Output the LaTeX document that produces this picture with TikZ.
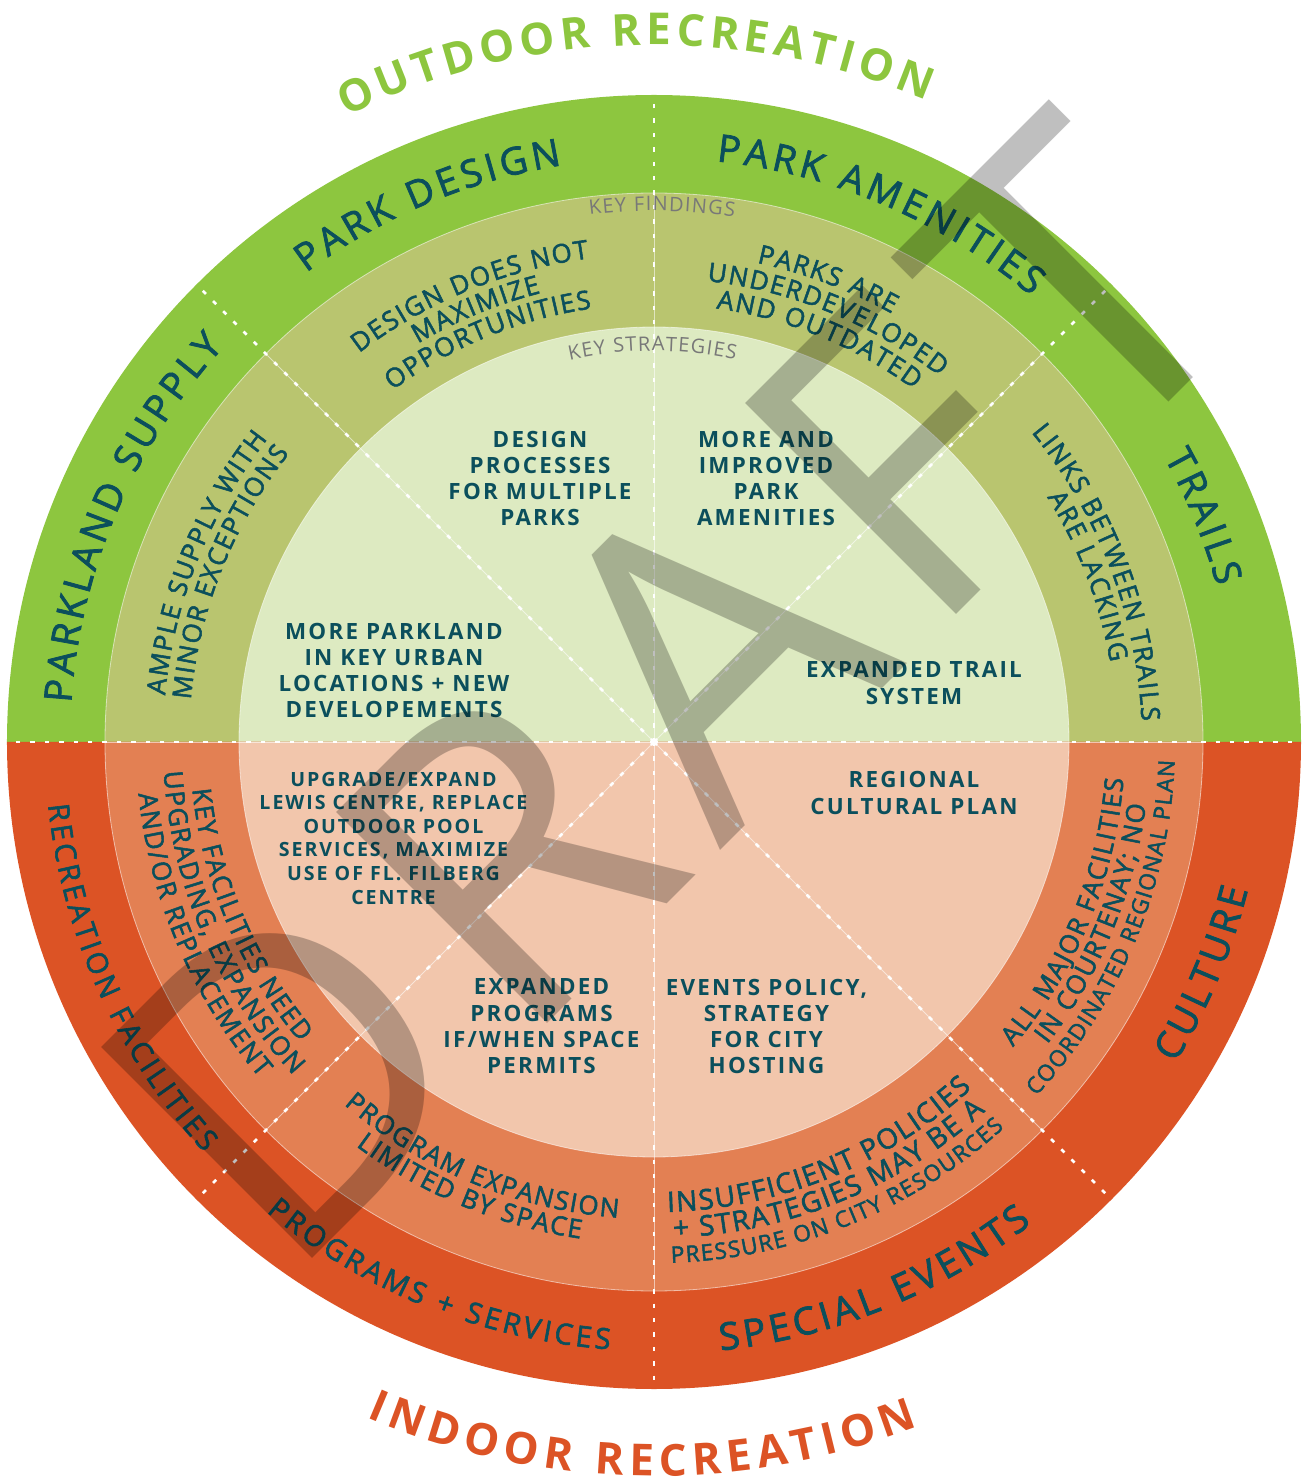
\documentclass[tikz,border=0pt]{standalone}
\usepackage{fontspec}
\setmainfont{Open Sans}
\newfontfamily\spacedfont[LetterSpace=10]{Open Sans}
\newfontfamily\ringfont[FakeBold=2]{Open Sans}
\newfontfamily\draftfont[LetterSpace=6.6]{Open Sans}
\usetikzlibrary{decorations.text}

\definecolor{ink}{RGB}{11,79,92}
\definecolor{outgreen}{RGB}{141,198,63}
\definecolor{midgreen}{RGB}{185,197,111}
\definecolor{ingreen}{RGB}{221,234,193}
\definecolor{outorange}{RGB}{220,83,37}
\definecolor{midorange}{RGB}{227,128,83}
\definecolor{inorange}{RGB}{242,198,172}
\definecolor{keygray}{RGB}{120,120,120}

% formats for the text that runs along the rings
\newcommand{\ringfmt}{\ringfont\fontsize{19}{22}\selectfont\color{ink}\kern2pt}
\newcommand{\ringfmtsm}{\ringfont\fontsize{14.5}{17}\selectfont\color{ink}\kern1.7pt}
\newcommand{\findfmt}{\ringfont\fontsize{13}{15}\selectfont\color{ink}\kern0.8pt}
\newcommand{\findfmtlg}{\ringfont\fontsize{14}{16}\selectfont\color{ink}\kern0.8pt}
\newcommand{\findfmtsm}{\ringfont\fontsize{11.3}{13}\selectfont\color{ink}\kern0.7pt}
\newcommand{\keyfmt}{\fontsize{10}{12}\selectfont\color{keygray}\kern0.6pt}
\newcommand{\outfmt}{\bfseries\fontsize{22}{26}\selectfont\color{outgreen}\kern2.5pt}
\newcommand{\infmt}{\bfseries\fontsize{22}{26}\selectfont\color{outorange}\kern3pt}

% text on a ring: clockwise (upper half) or anticlockwise (lower half)
\newcommand{\cwtext}[4]{\path[decorate,decoration={text along path,text align=center,text={|#3|#4}}]
  ({#1+80}:#2) arc[start angle={#1+80},end angle={#1-80},radius=#2];}
\newcommand{\ccwtext}[4]{\path[decorate,decoration={text along path,text align=center,text={|#3|#4}}]
  ({#1-80}:#2) arc[start angle={#1-80},end angle={#1+80},radius=#2];}

\begin{document}
\begin{tikzpicture}[x=0.5pt,y=0.5pt,
  divline/.style={white,line width=1.3pt,dash pattern=on 2.2pt off 5pt},
  hairline/.style={white,opacity=0.55,line width=0.4pt},
  strategy/.style={align=center,inner sep=0pt,text=ink,font=\spacedfont\bfseries\fontsize{11.2}{13.15}\selectfont},
  strategysm/.style={strategy,font=\spacedfont\bfseries\fontsize{9.8}{11.8}\selectfont},
  draftmark/.style={rotate=45,inner sep=0pt,text=black,opacity=0.25,font=\draftfont\fontsize{209}{209}\selectfont}]
  \def\rout{647} % outer edge
  \def\rmid{549} % key findings ring
  \def\rin{415}  % key strategies disc
  \useasboundingbox (-654,-741) rectangle (647,742);
  % outdoor half
  \fill[outgreen] (0,0) -- (0:\rout) arc[start angle=0,end angle=180,radius=\rout] -- cycle;
  \fill[midgreen] (0,0) -- (0:\rmid) arc[start angle=0,end angle=180,radius=\rmid] -- cycle;
  \fill[ingreen] (0,0) -- (0:\rin) arc[start angle=0,end angle=180,radius=\rin] -- cycle;
  % indoor half
  \fill[outorange] (0,0) -- (180:\rout) arc[start angle=180,end angle=360,radius=\rout] -- cycle;
  \fill[midorange] (0,0) -- (180:\rmid) arc[start angle=180,end angle=360,radius=\rmid] -- cycle;
  \fill[inorange] (0,0) -- (180:\rin) arc[start angle=180,end angle=360,radius=\rin] -- cycle;
  \draw[hairline] (0,0) circle[radius=\rmid] (0,0) circle[radius=\rin];
  % dividers
  \foreach \a in {0,45,...,315} {
    \draw[hairline] (0,0) -- (\a:\rmid);
    \draw[divline] (0,0) -- (\a:\rout);
  }

  % titles
  \cwtext{91.8}{697}{\outfmt}{OUTDOOR RECREATION}
  \ccwtext{268.8}{734}{\infmt}{INDOOR RECREATION}

  % outer ring
  \cwtext{157}{584}{\ringfmt}{PARKLAND SUPPLY}
  \cwtext{113}{584}{\ringfmt}{PARK DESIGN}
  \cwtext{67}{584}{\ringfmt}{PARK AMENITIES}
  \cwtext{22.5}{584}{\ringfmt}{TRAILS}
  \ccwtext{204}{609}{\ringfmtsm}{RECREATION FACILITIES}
  \ccwtext{248}{609}{\ringfmtsm}{PROGRAMS + SERVICES}
  \ccwtext{292}{612}{\ringfmt}{SPECIAL EVENTS}
  \ccwtext{337}{612}{\ringfmt}{CULTURE}

  % key findings
  \cwtext{89.2}{531}{\keyfmt}{KEY FINDINGS}
  \cwtext{158.3}{491}{\findfmt}{AMPLE SUPPLY WITH}
  \cwtext{158.3}{465}{\findfmt}{MINOR EXCEPTIONS}
  \cwtext{112.5}{488}{\findfmt}{DESIGN DOES NOT}
  \cwtext{112.5}{463}{\findfmt}{MAXIMIZE}
  \cwtext{112.5}{438}{\findfmt}{OPPORTUNITIES}
  \cwtext{69.5}{490}{\findfmt}{PARKS ARE}
  \cwtext{67.8}{464}{\findfmt}{UNDERDEVELOPED}
  \cwtext{67.8}{438}{\findfmt}{AND OUTDATED}
  \cwtext{21}{488}{\findfmt}{LINKS BETWEEN TRAILS}
  \cwtext{21}{463}{\findfmt}{ARE LACKING}
  \ccwtext{203}{464}{\findfmt}{KEY FACILITIES NEED}
  \ccwtext{203}{491}{\findfmt}{UPGRADING, EXPANSION}
  \ccwtext{203}{518}{\findfmt}{AND/OR REPLACEMENT}
  \ccwtext{247.5}{477}{\findfmt}{PROGRAM EXPANSION}
  \ccwtext{247.5}{502}{\findfmt}{LIMITED BY SPACE}
  \ccwtext{292}{470}{\findfmtlg}{INSUFFICIENT POLICIES}
  \ccwtext{292}{496}{\findfmtlg}{+ STRATEGIES MAY BE A}
  \ccwtext{292}{521}{\findfmtsm}{PRESSURE ON CITY RESOURCES}
  \ccwtext{337.5}{471}{\findfmt}{ALL MAJOR FACILITIES}
  \ccwtext{337.5}{496}{\findfmt}{IN COURTENAY; NO}
  \ccwtext{337.5}{521}{\findfmtsm}{COORDINATED REGIONAL PLAN}

  % key strategies
  \cwtext{90.3}{391}{\keyfmt}{KEY STRATEGIES}
  \node[strategy] (s-design) at (-114,263.5) {DESIGN\\PROCESSES\\FOR MULTIPLE\\PARKS};
  \node[strategy] (s-amenity) at (112,263.5) {MORE AND\\IMPROVED\\PARK\\AMENITIES};
  \node[strategy] (s-supply) at (-260,71.5) {MORE PARKLAND\\IN KEY URBAN\\LOCATIONS + NEW\\DEVELOPEMENTS};
  \node[strategy] (s-trail) at (260,59) {EXPANDED TRAIL\\SYSTEM};
  \node[strategysm] (s-facility) at (-260.5,-96) {UPGRADE/EXPAND\\LEWIS CENTRE, REPLACE\\OUTDOOR POOL\\SERVICES, MAXIMIZE\\USE OF FL. FILBERG\\CENTRE};
  \node[strategy] (s-culture) at (260,-51) {REGIONAL\\CULTURAL PLAN};
  \node[strategy] (s-program) at (-112.5,-284.5) {EXPANDED\\PROGRAMS\\IF/WHEN SPACE\\PERMITS};
  \node[strategy] (s-event) at (112.5,-284.5) {EVENTS POLICY,\\STRATEGY\\FOR CITY\\HOSTING};

  % watermark
  \node[draftmark] (draft) at (13,50) {DRAFT};
\end{tikzpicture}
\end{document}
